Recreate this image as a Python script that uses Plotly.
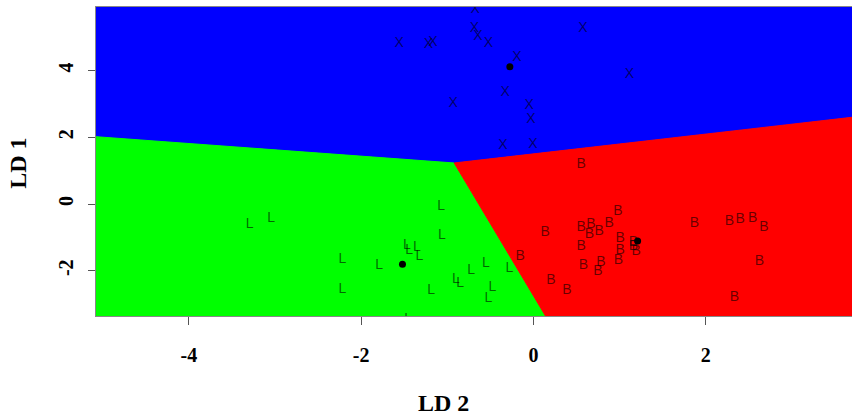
import plotly.graph_objects as go

# ---- axis ranges (LD 2 horizontal, LD 1 vertical) ----
x_range = [-5.077, 3.697]
y_range = [-3.358, 5.907]
x_ticks = [-4, -2, 0, 2]
y_ticks = [-2, 0, 2, 4]

# ---- decision region boundaries ----
triple_point = (-0.92, 1.23)      # where the three regions meet
left_edge_y = 2.018               # blue/green boundary at left edge
right_edge_y = 2.60               # blue/red boundary at right edge
bottom_edge_x = 0.14              # green/red boundary at bottom edge

# ---- group X (blue region) ----
x_grp_ld2 = [-0.676, -0.684, -0.645, -0.522, -1.558, -1.218, -1.167, 0.573, -0.193,
             1.114, -0.328, -0.932, -0.050, -0.030, -0.355, -0.007, 1.84]
x_grp_ld1 = [5.82, 5.27, 5.02, 4.82, 4.82, 4.79, 4.84, 5.25, 4.40,
             3.87, 3.34, 3.01, 2.94, 2.52, 1.75, 1.77, 6.03]

# ---- group L (green region) ----
l_grp_ld2 = [-3.295, -3.043, -1.071, -1.063, -1.469, -1.442, -1.353, -1.323, -2.216, -1.790,
             -0.723, -0.552, -0.278, -0.900, -0.850, -0.476, -0.522, -2.216, -1.187, -1.454]
l_grp_ld1 = [-0.600, -0.441, -0.081, -0.930, -1.250, -1.379, -1.310, -1.580, -1.649, -1.829,
             -1.979, -1.778, -1.928, -2.249, -2.378, -2.510, -2.828, -2.558, -2.579, -3.448]

# ---- group B (red region) ----
b_grp_ld2 = [0.553, 0.979, 0.878, 0.553, 0.666, 0.650, 0.762, 0.136, 0.553, 1.006,
             1.160, 1.160, 1.191, 1.006, 0.986, 0.782, 0.580, 0.747, -0.154, 0.202,
             0.387, 1.868, 2.274, 2.398, 2.545, 2.676, 2.622, 2.332]
b_grp_ld1 = [1.199, -0.210, -0.579, -0.711, -0.609, -0.909, -0.831, -0.849, -1.280, -1.028,
             -1.160, -1.280, -1.430, -1.379, -1.679, -1.748, -1.850, -2.009, -1.559, -2.279,
             -2.579, -0.579, -0.510, -0.450, -0.429, -0.711, -1.709, -2.810]

# ---- group centroids ----
centroid_ld2 = [-0.274, -1.520, 1.209]
centroid_ld1 = [4.117, -1.808, -1.109]

BLUE, GREEN, RED = "#0000FF", "#00FF00", "#FF0000"
x0, x1 = x_range
y0, y1 = y_range
tx, ty = triple_point

fig = go.Figure()

def region(xs, ys, color):
    fig.add_trace(go.Scatter(x=xs, y=ys, mode="lines", fill="toself", fillcolor=color,
                             line=dict(color=color, width=1), hoverinfo="skip",
                             showlegend=False))

region([x0, x1, x1, tx, x0, x0], [y1, y1, right_edge_y, ty, left_edge_y, y1], BLUE)
region([x0, tx, bottom_edge_x, x0, x0], [left_edge_y, ty, y0, y0, left_edge_y], GREEN)
region([tx, x1, x1, bottom_edge_x, tx], [ty, right_edge_y, y0, y0, ty], RED)

letter_font = dict(family="Liberation Sans", size=14, color="rgba(0,0,0,0.6)")
for xs, ys, lab in [(x_grp_ld2, x_grp_ld1, "X"), (l_grp_ld2, l_grp_ld1, "L"),
                    (b_grp_ld2, b_grp_ld1, "B")]:
    fig.add_trace(go.Scatter(x=xs, y=ys, mode="text", text=[lab] * len(xs),
                             textposition="middle center", textfont=letter_font,
                             showlegend=False, cliponaxis=True))

fig.add_trace(go.Scatter(x=centroid_ld2, y=centroid_ld1, mode="markers",
                         marker=dict(color="black", size=7), showlegend=False))

tick_font = dict(family="Liberation Serif", size=20, color="black", weight="bold")
title_font = dict(family="Liberation Serif", size=24, color="black", weight="bold")

fig.update_xaxes(range=x_range, tickvals=x_ticks, ticktext=[str(v) for v in x_ticks],
                 showgrid=False, zeroline=False, ticks="outside", ticklen=8,
                 tickcolor="#555", tickfont=tick_font, ticklabelstandoff=13,
                 showline=True, linecolor="#888", linewidth=1, mirror=True)
fig.update_yaxes(range=y_range, tickvals=y_ticks, ticktext=[str(v) for v in y_ticks],
                 showgrid=False, zeroline=False, ticks="outside", ticklen=7,
                 tickcolor="#555", tickfont=tick_font, tickangle=-90, ticklabelstandoff=7,
                 showline=True, linecolor="#888", linewidth=1, mirror=True)

fig.add_annotation(text="LD 2", xref="paper", yref="paper", x=0.459, y=-0.2816,
                   xanchor="center", yanchor="middle", showarrow=False, font=title_font)
fig.add_annotation(text="LD 1", xref="paper", yref="paper", x=-0.1036, y=0.495,
                   xanchor="center", yanchor="middle", textangle=-90, showarrow=False,
                   font=title_font)

fig.update_layout(width=852, height=418, margin=dict(l=96, r=0, t=7, b=102),
                  paper_bgcolor="white", plot_bgcolor="white")

fig.write_html("out.html")
